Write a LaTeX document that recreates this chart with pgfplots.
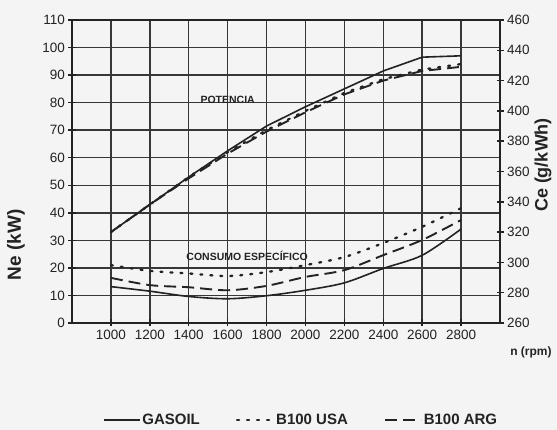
\documentclass[border=0pt]{standalone}
\usepackage{pgfplots}
\pgfplotsset{compat=1.18}
\usepackage{fontspec}
\setmainfont{Liberation Sans}
\definecolor{bg}{RGB}{244,244,244}
\definecolor{ink}{RGB}{35,35,35}
\definecolor{gridc}{RGB}{55,55,55}

\pgfplotsset{
  common/.style={
    scale only axis, width=428pt, height=303pt,
    xmin=800, xmax=3000,
    /pgf/number format/assume math mode=true,
    /pgf/number format/set thousands separator={},
    tick label style={font=\fontsize{13.5}{14}\selectfont, text=ink},
    axis line style={ink, line width=2pt},
    major tick style={ink, line width=1.5pt},
    major tick length=7pt,
    tick align=center,
  },
  usa/.style={ink, line width=2.3pt, dash pattern=on 2pt off 8pt, line cap=round},
  arg/.style={ink, line width=1.9pt, dash pattern=on 12pt off 6pt},
  gas/.style={ink, line width=1.6pt},
}

\begin{document}
\begin{tikzpicture}
\fill[bg] (-72pt,-107pt) rectangle (485pt,323pt);
\useasboundingbox (-72pt,-107pt) rectangle (485pt,323pt);

% power, left axis
\begin{axis}[common,
    ymin=0, ymax=110,
    xtick={1000,1200,...,2800},
    ytick={0,10,...,110},
    xtick pos=bottom, ytick pos=left,
    grid=major,
    major grid style={gridc, line width=1.4pt},
    legend columns=3,
    legend style={at={(rel axis cs:0.535,-0.32)}, anchor=center, draw=none, fill=none,
      font=\bfseries\fontsize{15}{16}\selectfont, text=ink,
      /tikz/every even column/.append style={column sep=34pt}},
    legend image code/.code={\draw[#1] (0pt,0pt) -- (36pt,0pt);},
  ]
  \addplot[gas] coordinates {(1000,33) (1200,43) (1400,53) (1600,62.5) (1800,71.5) (2000,78.5) (2200,85) (2400,91.5) (2600,96.5) (2800,97)};
  \addlegendentry{GASOIL}
  \addplot[usa] coordinates {(1000,33) (1200,43) (1400,53) (1600,62) (1800,70) (2000,77) (2200,83.5) (2400,88.5) (2600,92) (2800,94)};
  \addlegendentry{B100 USA}
  \addplot[arg] coordinates {(1000,33) (1200,43) (1400,52.5) (1600,61.5) (1800,69.5) (2000,76.5) (2200,83) (2400,88) (2600,91.5) (2800,93)};
  \addlegendentry{B100 ARG}
  \node[font=\bfseries\fontsize{10.5}{11}\selectfont, text=ink] at (axis cs:1600,81) {POTENCIA};
  \node[font=\bfseries\fontsize{10.5}{11}\selectfont, text=ink] at (axis cs:1700,24.5) {CONSUMO ESPECÍFICO};
\end{axis}

% specific consumption, right axis
\begin{axis}[common,
    ymin=260, ymax=460,
    ytick={260,280,...,460},
    axis y line*=right, axis x line=none,
  ]
  \addplot[gas, smooth] coordinates {(1000,284) (1200,281) (1400,277.5) (1600,276) (1800,278) (2000,281.6) (2200,286.5) (2400,296) (2600,304.7) (2800,322)};
  \addplot[usa, smooth] coordinates {(1000,298.2) (1200,294.4) (1400,292.7) (1600,291) (1800,293.6) (2000,298.2) (2200,303.5) (2400,312.8) (2600,323.5) (2800,335.8)};
  \addplot[arg, smooth] coordinates {(1000,289.8) (1200,285) (1400,283.6) (1600,281.6) (1800,284.5) (2000,290.4) (2200,294.9) (2400,304.8) (2600,314.8) (2800,328)};
\end{axis}

\node[rotate=90, font=\bfseries\fontsize{19}{20}\selectfont, text=ink] at (-56pt,78pt) {Ne (kW)};
\node[rotate=90, font=\bfseries\fontsize{18}{19}\selectfont, text=ink] at (471pt,158pt) {Ce (g/kWh)};
\node[font=\bfseries\fontsize{12}{13}\selectfont, text=ink] at (459pt,-29pt) {n (rpm)};
\end{tikzpicture}
\end{document}
